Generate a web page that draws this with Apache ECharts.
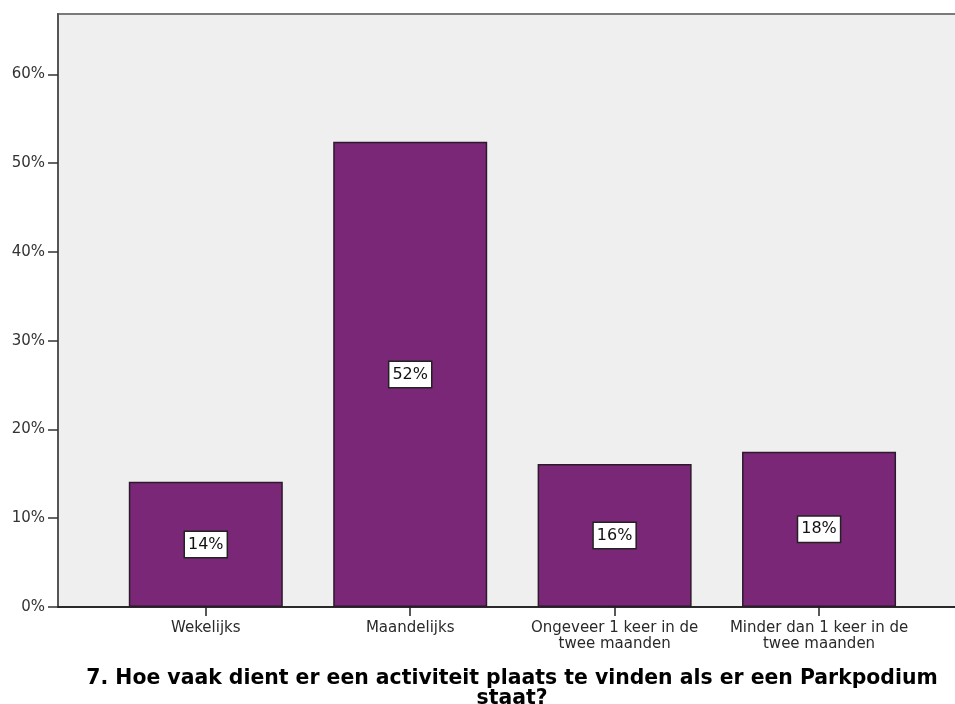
<!DOCTYPE html>
<html>
<head>
<meta charset="utf-8">
<script src="https://cdn.jsdelivr.net/npm/echarts@6/dist/echarts.min.js"></script>
<style>
  html, body { margin: 0; padding: 0; background: #ffffff; }
  #chart { width: 955px; height: 704px; }
</style>
</head>
<body>
<div id="chart"></div>
<script>
// ---- data ----
const categories = [
  'Wekelijks',
  'Maandelijks',
  'Ongeveer 1 keer in de\ntwee maanden',
  'Minder dan 1 keer in de\ntwee maanden'
];
const percentages = [14.1, 52.4, 16.1, 17.5];
const yTicks = [0, 10, 20, 30, 40, 50, 60];
const titleText = '7. Hoe vaak dient er een activiteit plaats te vinden als er een Parkpodium\nstaat?';

// ---- chart ----
const chart = echarts.init(document.getElementById('chart'), null, { renderer: 'canvas' });
const catIdx = categories.map((c, i) => i);

const option = {
  animation: false,
  backgroundColor: '#ffffff',
  textStyle: { fontFamily: 'DejaVu Sans' },
  title: {
    text: titleText,
    left: 507,
    textAlign: 'center',
    top: 664,
    textStyle: {
      fontFamily: 'DejaVu Sans',
      fontWeight: 'bold',
      fontSize: 20.4,
      lineHeight: 20,
      color: '#000000'
    }
  },
  grid: {
    left: 58,
    top: 14,
    right: -10,
    bottom: 97,
    outerBoundsMode: 'none',
    containLabel: false,
    show: true,
    backgroundColor: '#efefef',
    borderColor: '#7a7a7a',
    borderWidth: 2
  },
  xAxis: {
    type: 'value',
    min: -0.723,
    max: 3.714,
    splitLine: { show: false },
    axisLine: { show: true, onZero: false, lineStyle: { color: '#111111', width: 1.5 } },
    axisTick: {
      show: true,
      customValues: catIdx,
      length: 9,
      lineStyle: { color: '#222222', width: 1.5 }
    },
    axisLabel: {
      customValues: catIdx,
      margin: 13,
      fontFamily: 'DejaVu Sans',
      fontSize: 15,
      lineHeight: 16,
      color: '#2a2a2a',
      formatter: v => categories[Math.round(v)] || ''
    }
  },
  yAxis: {
    type: 'value',
    min: 0,
    max: 66.8,
    interval: 10,
    splitLine: { show: false },
    axisLine: { show: true, onZero: false, lineStyle: { color: '#555555', width: 2 } },
    axisTick: {
      show: true,
      customValues: yTicks,
      length: 10,
      lineStyle: { color: '#333333', width: 1.5 }
    },
    axisLabel: {
      customValues: yTicks,
      margin: 13,
      fontFamily: 'DejaVu Sans',
      fontSize: 15,
      color: '#333333',
      formatter: v => Math.round(v) + '%'
    }
  },
  series: [{
    type: 'bar',
    barWidth: 154,
    data: percentages.map((v, i) => [i, v]),
    itemStyle: {
      color: '#7b2777',
      borderColor: '#2b1a2b',
      borderWidth: 1.5
    },
    label: {
      show: true,
      position: 'inside',
      formatter: p => Math.round(p.value[1]) + '%',
      fontFamily: 'DejaVu Sans',
      fontSize: 16,
      color: '#111111',
      backgroundColor: '#ffffff',
      borderColor: '#222222',
      borderWidth: 1.5,
      padding: [5, 3, 4, 3]
    }
  }]
};

chart.setOption(option);
</script>
</body>
</html>
